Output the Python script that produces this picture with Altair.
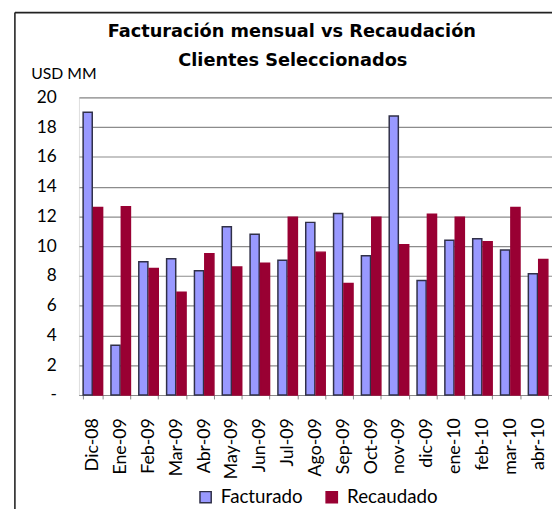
import altair as alt
import pandas as pd

months = ["Dic-08", "Ene-09", "Feb-09", "Mar-09", "Abr-09", "May-09", "Jun-09",
          "Jul-09", "Ago-09", "Sep-09", "Oct-09", "nov-09", "dic-09", "ene-10",
          "feb-10", "mar-10", "abr-10"]
facturado = [19.0, 3.35, 8.95, 9.15, 8.35, 11.3, 10.8, 9.05, 11.6, 12.2, 9.35,
             18.75, 7.7, 10.4, 10.5, 9.75, 8.15]
recaudado = [12.6, 12.65, 8.5, 6.9, 9.5, 8.6, 8.85, 11.95, 9.6, 7.5, 11.95,
             10.1, 12.15, 11.95, 10.3, 12.6, 9.1]
series = ["Facturado", "Recaudado"]
colors = ["#9999FF", "#990033"]
strokes = ["#303048", "#990033"]
y_ticks = [0, 2, 4, 6, 8, 10, 12, 14, 16, 18, 20]
title_lines = ["Facturación mensual vs Recaudación", "Clientes Seleccionados"]

rows = []
for m, f, r in zip(months, facturado, recaudado):
    rows.append({"mes": m, "serie": series[0], "valor": f})
    rows.append({"mes": m, "serie": series[1], "valor": r})
df = pd.DataFrame(rows)

FONT = "Lato"
TFONT = "DejaVu Sans"

legend_cfg = dict(title=None, orient="none", direction="horizontal",
                  legendX=119, legendY=396,
                  symbolType="square", symbolSize=130,
                  symbolStrokeWidth=1.5,
                  labelFont=FONT, labelFontSize=19,
                  labelColor="#000", columnPadding=20,
                  labelOffset=6)

bars = alt.Chart(df).mark_bar(strokeWidth=1.5).encode(
    x=alt.X("mes:N", sort=months,
            scale=alt.Scale(paddingInner=0.3, paddingOuter=0.15),
            axis=alt.Axis(title=None, labelAngle=-90, labelFont=FONT,
                          labelFontSize=18, labelColor="#000",
                          labelPadding=19, tickSize=4, tickColor="#888",
                          tickBand="extent", domainColor="#888",
                          domainWidth=1.2)),
    xOffset=alt.XOffset("serie:N", sort=series,
                        scale=alt.Scale(paddingInner=0.12)),
    y=alt.Y("valor:Q", scale=alt.Scale(domain=[0, 20], nice=False),
            axis=alt.Axis(values=y_ticks, grid=True, gridColor="#8c8c8c",
                          gridWidth=1.2, domain=False, ticks=False,
                          labelPadding=23, labelFont=FONT, labelFontSize=17.5,
                          labelColor="#000",
                          labelExpr="datum.value == 0 ? '-' : datum.label",
                          title="USD MM", titleAngle=0, titleFont=FONT,
                          titleFontSize=16, titleFontWeight="normal",
                          titleAlign="left", titleBaseline="alphabetic",
                          titleX=-49, titleY=-19)),
    fill=alt.Fill("serie:N", sort=series,
                  scale=alt.Scale(domain=series, range=colors),
                  legend=alt.Legend(**legend_cfg)),
    stroke=alt.Stroke("serie:N", sort=series,
                      scale=alt.Scale(domain=series, range=strokes),
                      legend=alt.Legend(**legend_cfg)),
)

one = pd.DataFrame({"k": [0]})
left_line = alt.Chart(one).mark_rule(color="#222", strokeWidth=1.6).encode(
    x=alt.value(-65), y=alt.value(-86), y2=alt.value(430))
top_line = alt.Chart(one).mark_rule(color="#222", strokeWidth=1.6).encode(
    y=alt.value(-86), x=alt.value(-65), x2=alt.value(490))
title1 = alt.Chart(one).mark_text(font=TFONT, fontSize=18, fontWeight="bold",
                                  color="#000", align="center",
                                  baseline="alphabetic").encode(
    x=alt.value(216), y=alt.value(-61), text=alt.value(title_lines[0]))
title2 = alt.Chart(one).mark_text(font=TFONT, fontSize=18, fontWeight="bold",
                                  color="#000", align="center",
                                  baseline="alphabetic").encode(
    x=alt.value(217), y=alt.value(-32), text=alt.value(title_lines[1]))

chart = alt.layer(bars, left_line, top_line, title1, title2).properties(
    width=480, height=302,
    autosize=alt.AutoSizeParams(type="none"),
    padding={"left": 72, "top": 87, "right": 0, "bottom": 112},
).configure_view(stroke=None).configure(background="white")

chart.save("out.html", embed_options={"renderer": "svg", "actions": False})
